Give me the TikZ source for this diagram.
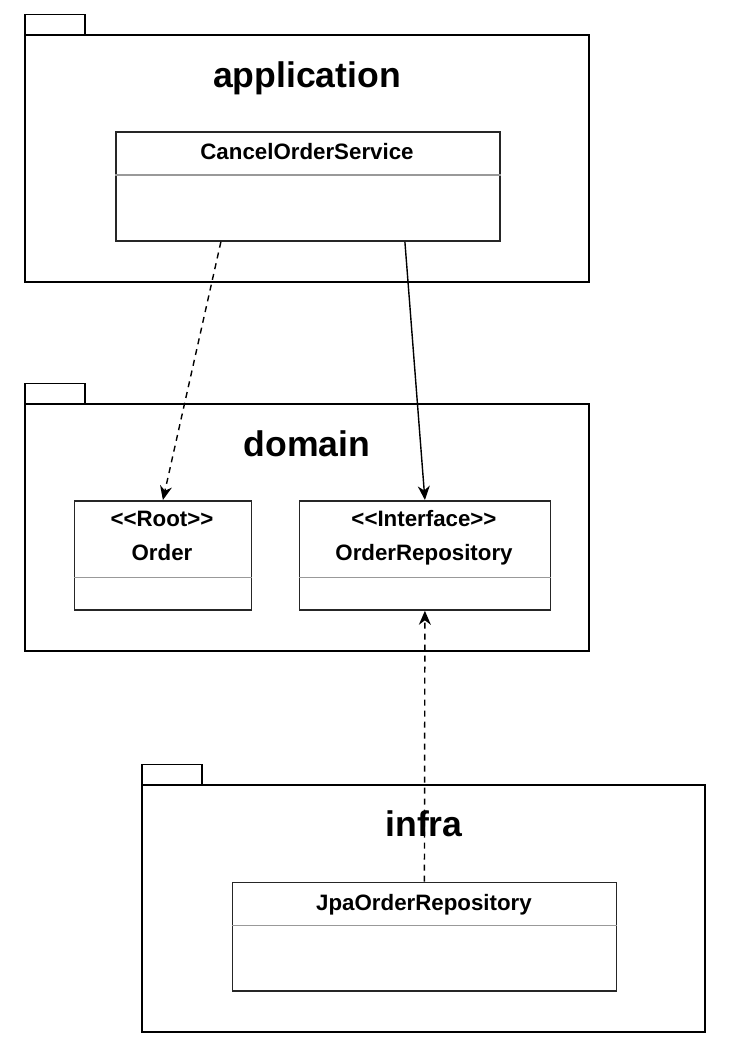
\documentclass[tikz,border=0pt]{standalone}
\usepackage{fontspec}
\setmainfont{Liberation Sans}
\usetikzlibrary{arrows.meta}
\begin{document}
\begin{tikzpicture}[x=1pt,y=-1pt,
  pkg/.style={draw=black,line width=1.7pt},
  cls/.style={draw=black!85,line width=1.8pt,fill=white,rectangle,inner sep=0pt,anchor=north west},
  divline/.style={draw=black!40,line width=1.3pt},
  pkgtitle/.style={font=\bfseries\fontsize{35.6}{40}\selectfont,anchor=base,inner sep=0pt},
  clstext/.style={font=\bfseries\fontsize{22.3}{26}\selectfont,anchor=base,inner sep=0pt},
  dep/.style={line width=1.4pt,dashed,dash pattern=on 6pt off 5pt,-{Stealth[length=14pt,width=12pt,inset=4.5pt]}},
  assoc/.style={line width=1.4pt,-{Stealth[length=14pt,width=12pt,inset=4.5pt]}}]
\useasboundingbox (0,0) rectangle (732,1056);
\fill[white] (0,0) rectangle (732,1056);
% packages
\draw[pkg] (25,35) rectangle (85,14.5);
\draw[pkg] (25,35) rectangle (589,282);
\node[pkgtitle] (tapp) at (307,87.5) {application};
\draw[pkg] (25,404) rectangle (85,383.5);
\draw[pkg] (25,404) rectangle (589,651);
\node[pkgtitle] (tdom) at (307,456.5) {domain};
\draw[pkg] (142,785) rectangle (202,764.5);
\draw[pkg] (142,785) rectangle (705,1032);
\node[pkgtitle] (tinf) at (424,836) {infra};
% classes
\node[cls,minimum width=384pt,minimum height=109pt] (cos) at (115,131) {};
\draw[divline] ([yshift=-44pt]cos.north west) -- ([yshift=-44pt]cos.north east);
\node[clstext] (coslbl) at (307,159.5) {CancelOrderService};
\node[cls,minimum width=177pt,minimum height=109pt] (ord) at (73.5,500) {};
\draw[divline] ([yshift=-77.5pt]ord.north west) -- ([yshift=-77.5pt]ord.north east);
\node[clstext] (ordst) at (162,526.5) {<{}<Root>{}>};
\node[clstext] (ordlbl) at (162,560) {Order};
\node[cls,minimum width=251pt,minimum height=109pt] (rep) at (298.5,500) {};
\draw[divline] ([yshift=-77.5pt]rep.north west) -- ([yshift=-77.5pt]rep.north east);
\node[clstext] (repst) at (424,526.5) {<{}<Interface>{}>};
\node[clstext] (replbl) at (424,560) {OrderRepository};
\node[cls,minimum width=384pt,minimum height=108.5pt] (jpa) at (231.5,881.5) {};
\draw[divline] ([yshift=-44pt]jpa.north west) -- ([yshift=-44pt]jpa.north east);
\node[clstext] (jpalbl) at (424,910.5) {JpaOrderRepository};
% connectors
\draw[dep] ([xshift=-87pt]cos.south) -- (ord.north);
\draw[assoc] ([xshift=97pt]cos.south) -- (rep.north);
\draw[dep] (jpa.north) -- (rep.south);
\end{tikzpicture}
\end{document}
